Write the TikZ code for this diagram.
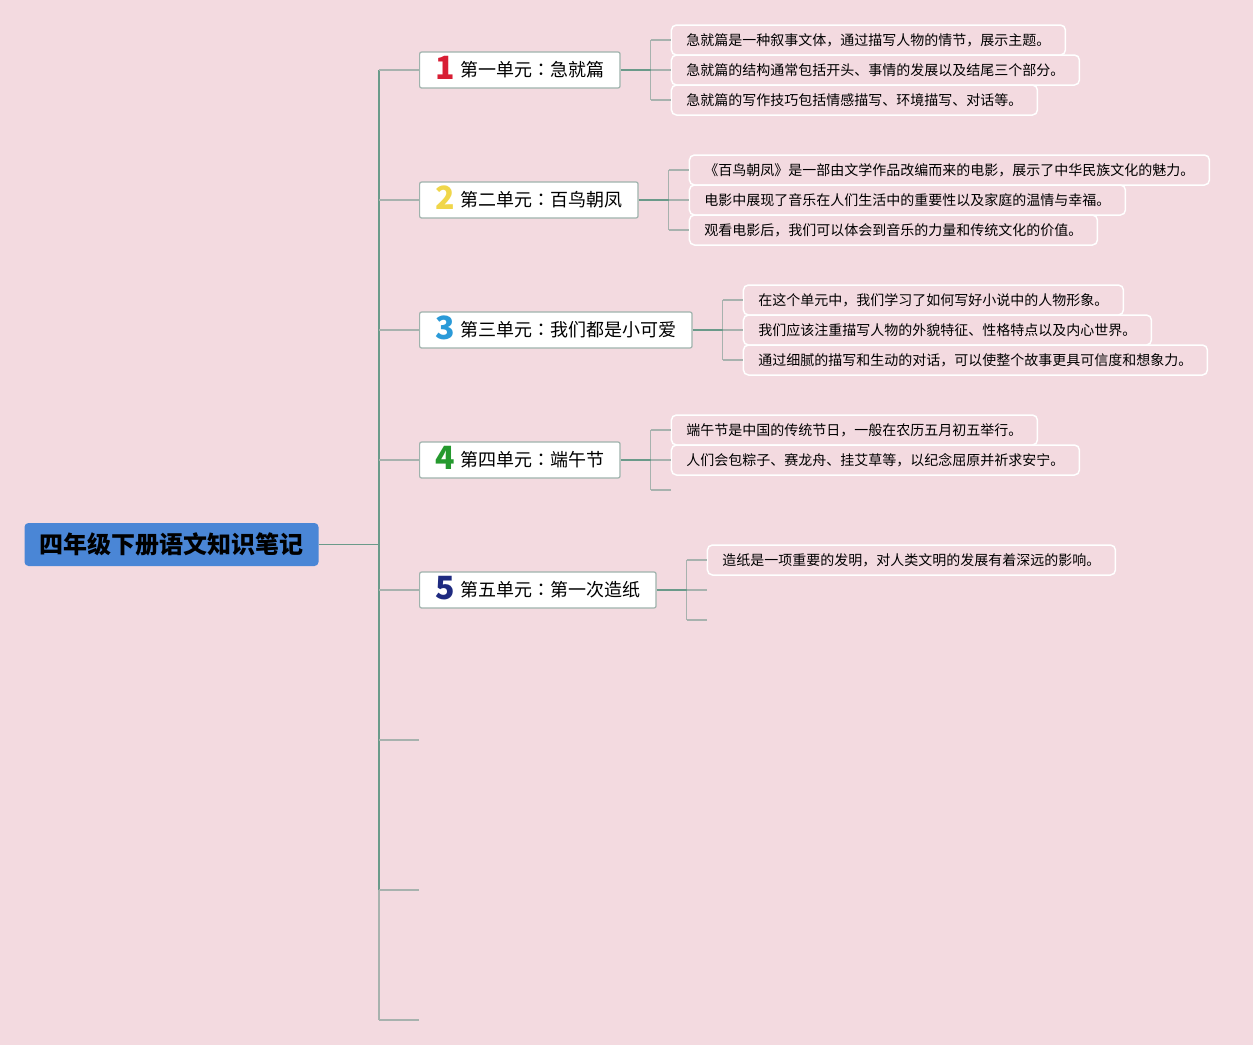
\documentclass[tikz,border=0pt]{standalone}
\usepackage{fontspec}
\setmainfont{Noto Sans CJK SC}
\newfontfamily\jpcolon{Noto Sans CJK JP}
\usepackage{xcolor}
\usetikzlibrary{positioning, calc}

\definecolor{bgpink}{HTML}{F3DAE0}
\definecolor{rootblue}{HTML}{4A86D6}
\definecolor{trunkgreen}{HTML}{6A9A8A}
\definecolor{twiggrey}{HTML}{A7B2AE}
\definecolor{unitline}{HTML}{9FB3AD}
\definecolor{numred}{HTML}{D81E34}
\definecolor{numyellow}{HTML}{F0D64A}
\definecolor{numblue}{HTML}{2A9AD8}
\definecolor{numgreen}{HTML}{25992E}
\definecolor{numnavy}{HTML}{1E2A80}

\tikzset{
  rootbox/.style={fill=rootblue,rounded corners=4pt,inner xsep=15pt,minimum height=43pt,font=\fontsize{24}{24}\selectfont\bfseries},
  unitbox/.style={draw=unitline,line width=1.2pt,fill=white,rounded corners=2pt,inner xsep=16pt,minimum height=36pt,anchor=west,font=\fontsize{18}{18}\selectfont},
  leafbox/.style={draw=white,line width=1.5pt,fill=bgpink,rounded corners=5pt,inner xsep=15pt,minimum height=30pt,anchor=west,font=\fontsize{14}{14}\selectfont},
  trunk/.style={draw=trunkgreen,line width=1.6pt},
  twig/.style={draw=twiggrey,line width=1.5pt},
}
\newcommand{\unitnum}[2]{\smash{\raisebox{-3pt}{\fontsize{32}{32}\selectfont\bfseries\color{#1}#2}}\hspace{5pt}}
\newcommand{\ucolon}{{\jpcolon ：}}

\begin{document}
\begin{tikzpicture}[x=1pt,y=-1pt]
    \fill[bgpink](0,0)rectangle(1253,1045);
    \useasboundingbox(0,0)rectangle(1253,1045);
    % root and units
    \node[rootbox](root)at(171.5,544.5){四年级下册语文知识笔记};
    \node[unitbox](u1)at(419,70){\unitnum{numred}{1}第一单元\ucolon 急就篇};
    \node[unitbox](u2)at(419,200){\unitnum{numyellow}{2}第二单元\ucolon 百鸟朝凤};
    \node[unitbox](u3)at(419,330){\unitnum{numblue}{3}第三单元\ucolon 我们都是小可爱};
    \node[unitbox](u4)at(419,460){\unitnum{numgreen}{4}第四单元\ucolon 端午节};
    \node[unitbox](u5)at(419,590){\unitnum{numnavy}{5}第五单元\ucolon 第一次造纸};
    \coordinate(tk)at(379,0);
    \coordinate(e1)at(419,740);
    \coordinate(e2)at(419,890);
    \coordinate(e3)at(419,1020);
    % trunk
    \draw[trunk](root.east)--(tk|-root.east);
    \draw[trunk](tk|-u1.west)--(tk|-e2);
    \draw[twig](tk|-e2)--(tk|-e3);
    \draw[twig](tk|-u1.west)--(u1.west);
    \draw[twig](tk|-u2.west)--(u2.west);
    \draw[twig](tk|-u3.west)--(u3.west);
    \draw[twig](tk|-u4.west)--(u4.west);
    \draw[twig](tk|-u5.west)--(u5.west);
    \draw[twig](tk|-e1)--(e1);
    \draw[twig](tk|-e2)--(e2);
    \draw[twig](tk|-e3)--(e3);
    % unit 1
    \coordinate(k1)at($(u1.east)+(30,0)$);
    \node[leafbox](l11)at($(k1)+(20,-30)$){急就篇是一种叙事文体，通过描写人物的情节，展示主题。};
    \node[leafbox](l12)at($(k1)+(20,0)$){急就篇的结构通常包括开头、事情的发展以及结尾三个部分。};
    \node[leafbox](l13)at($(k1)+(20,30)$){急就篇的写作技巧包括情感描写、环境描写、对话等。};
    \draw[twig](k1|-l11.west)--(k1|-l13.west);
    \draw[twig](k1|-l11.west)--(l11.west);
    \draw[twig](k1|-l13.west)--(l13.west);
    \draw[twig](k1)--(l12.west);
    \draw[trunk](u1.east)--(k1);
    % unit 2
    \coordinate(k2)at($(u2.east)+(30,0)$);
    \node[leafbox](l21)at($(k2)+(20,-30)$){《百鸟朝凤》是一部由文学作品改编而来的电影，展示了中华民族文化的魅力。};
    \node[leafbox](l22)at($(k2)+(20,0)$){电影中展现了音乐在人们生活中的重要性以及家庭的温情与幸福。};
    \node[leafbox](l23)at($(k2)+(20,30)$){观看电影后，我们可以体会到音乐的力量和传统文化的价值。};
    \draw[twig](k2|-l21.west)--(k2|-l23.west);
    \draw[twig](k2|-l21.west)--(l21.west);
    \draw[twig](k2|-l23.west)--(l23.west);
    \draw[twig](k2)--(l22.west);
    \draw[trunk](u2.east)--(k2);
    % unit 3
    \coordinate(k3)at($(u3.east)+(30,0)$);
    \node[leafbox](l31)at($(k3)+(20,-30)$){在这个单元中，我们学习了如何写好小说中的人物形象。};
    \node[leafbox](l32)at($(k3)+(20,0)$){我们应该注重描写人物的外貌特征、性格特点以及内心世界。};
    \node[leafbox](l33)at($(k3)+(20,30)$){通过细腻的描写和生动的对话，可以使整个故事更具可信度和想象力。};
    \draw[twig](k3|-l31.west)--(k3|-l33.west);
    \draw[twig](k3|-l31.west)--(l31.west);
    \draw[twig](k3|-l33.west)--(l33.west);
    \draw[twig](k3)--(l32.west);
    \draw[trunk](u3.east)--(k3);
    % unit 4
    \coordinate(k4)at($(u4.east)+(30,0)$);
    \coordinate(s4)at($(k4)+(20,30)$);
    \node[leafbox](l41)at($(k4)+(20,-30)$){端午节是中国的传统节日，一般在农历五月初五举行。};
    \node[leafbox](l42)at($(k4)+(20,0)$){人们会包粽子、赛龙舟、挂艾草等，以纪念屈原并祈求安宁。};
    \draw[twig](k4|-l41.west)--(k4|-s4);
    \draw[twig](k4|-l41.west)--(l41.west);
    \draw[twig](k4|-s4)--(s4);
    \draw[twig](k4)--(l42.west);
    \draw[trunk](u4.east)--(k4);
    % unit 5
    \coordinate(k5)at($(u5.east)+(30,0)$);
    \coordinate(s51)at($(k5)+(20,0)$);
    \coordinate(s52)at($(k5)+(20,30)$);
    \node[leafbox](l51)at($(k5)+(20,-30)$){造纸是一项重要的发明，对人类文明的发展有着深远的影响。};
    \draw[twig](k5|-l51.west)--(k5|-s52);
    \draw[twig](k5|-l51.west)--(l51.west);
    \draw[twig](k5|-s52)--(s52);
    \draw[twig](k5)--(s51);
    \draw[trunk](u5.east)--(k5);
\end{tikzpicture}
\end{document}
